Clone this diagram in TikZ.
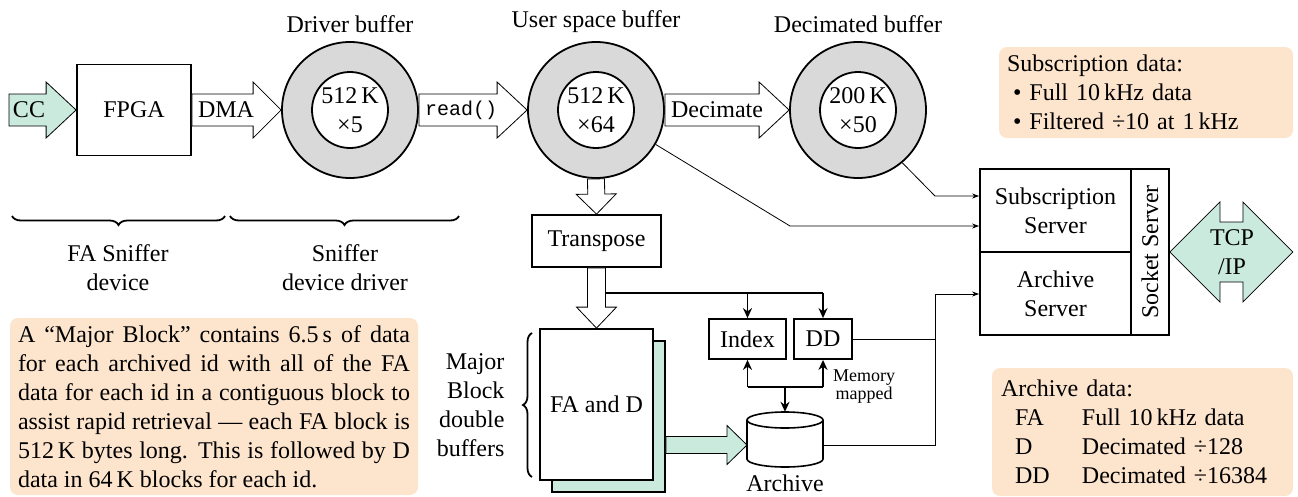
\documentclass[tikz,border=0pt]{standalone}
\usepackage{fontspec}
\setmainfont{Liberation Serif}
\setmonofont{Liberation Mono}
\usetikzlibrary{calc,arrows.meta,decorations.pathreplacing}
\definecolor{mint}{RGB}{202,234,222}
\definecolor{peach}{RGB}{253,228,205}
\definecolor{ringgray}{RGB}{217,217,217}
% block arrow: [style]{start}{tip}{body half width}{head half width}{head length}
\newcommand{\blockarr}[6][]{%
  \coordinate (bahead) at ($(#3)!#6!(#2)$);
  \draw[#1] ($(#2)!#4!90:(#3)$) -- ($(bahead)!#4!90:(#3)$) -- ($(bahead)!#5!90:(#3)$) -- (#3)
    -- ($(bahead)!#5!-90:(#3)$) -- ($(bahead)!#4!-90:(#3)$) -- ($(#2)!#4!-90:(#3)$) -- cycle;}
\begin{document}
\begin{tikzpicture}[x=1pt,y=-1pt,font=\fontsize{24}{29}\selectfont,
  box/.style={draw,line width=1.8pt,inner sep=0pt,align=center},
  ring/.style={circle,draw,line width=1.8pt,fill=ringgray,minimum size=136pt,inner sep=0pt},
  hole/.style={circle,draw,line width=1.8pt,fill=white,minimum size=76pt,inner sep=0pt,align=center},
  hollow/.style={draw,line width=0.8pt,fill=white},
  greenarr/.style={draw,line width=0.8pt,fill=mint},
  thinline/.style={line width=0.8pt},
  conn/.style={line width=0.8pt,-{Stealth[length=7pt,width=5pt]}},
  thickline/.style={line width=1.8pt},
  thickarrow/.style={line width=1.8pt,-{Stealth[length=10pt,width=9pt]}},
  note/.style={fill=peach,rounded corners=8pt},
  bracestyle/.style={decorate,decoration={brace,amplitude=9pt},line width=1.8pt}]
\path[use as bounding box] (0,0) rectangle (1298,496);

% ---- top row
\node[box,minimum width=114pt,minimum height=91pt] (fpga) at (134,110) {FPGA};
\node[ring] (drv) at (350,110) {};
\node[hole] (drvin) at (drv.center) {512\,K\\×5};
\node[ring] (usr) at (596,110) {};
\node[hole] (usrin) at (usr.center) {512\,K\\×64};
\node[ring] (dec) at (858,110) {};
\node[hole] (decin) at (dec.center) {200\,K\\×50};

\node[anchor=base] (drvlbl) at (350,32) {Driver buffer};
\node[anchor=base] (usrlbl) at (596,27) {User space buffer};
\node[anchor=base] (declbl) at (858,32) {Decimated buffer};

\coordinate (ccstart) at (9,110);
\blockarr[greenarr]{ccstart}{fpga.west}{16pt}{28pt}{30pt}
\node (cc) at (29,110) {CC};
\blockarr[hollow]{fpga.east}{drv.west}{16pt}{28pt}{28pt}
\node (dma) at (226,110) {DMA};
\blockarr[hollow]{drv.east}{usr.west}{16pt}{28pt}{30pt}
\node (readlbl) at (461,110) {\fontsize{20}{24}\ttfamily read()};
\blockarr[hollow]{usr.east}{dec.west}{16pt}{28pt}{30pt}
\node (decim) at (717,110) {Decimate};

% ---- braces
\draw[bracestyle] (225,216) -- (12,216);
\draw[bracestyle] (459,216) -- (230,216);
\node[align=center] (fasn) at (118,268) {FA Sniffer\\device};
\node[align=center] (sndd) at (345,268) {Sniffer\\device driver};

% ---- major block note
\node[note,text width=392pt,inner xsep=8pt,inner ysep=4pt,minimum height=177pt,align=justify] (mbtext) at (214,406.5)
 {A “Major Block” contains 6.5\,s of data\linebreak for each archived id with all of the FA\linebreak data for each id in a contiguous block to\linebreak assist rapid retrieval --- each FA block is\linebreak 512\,K bytes long. This is followed by D\linebreak data in 64\,K blocks for each id.};

% ---- transpose and FA
\node[box,minimum width=129pt,minimum height=52pt] (tr) at (596.5,241) {Transpose};
\blockarr[hollow]{usr.south}{tr.north}{8.5pt}{20pt}{20pt}
\node[box,fill=mint,minimum width=113pt,minimum height=151pt] (faback) at (608.5,416.5) {};
\node[box,fill=white,minimum width=113pt,minimum height=151pt] (fa) at (596.5,404.5) {FA and D};
\blockarr[hollow]{tr.south}{fa.north}{9pt}{20pt}{21pt}

\node[align=right,anchor=east] (mbdb) at (508,405) {Major\\Block\\double\\buffers};
\draw[bracestyle] (532,477) -- (532,333);

% ---- index, DD, archive
\node[box,minimum width=77pt,minimum height=40pt] (idx) at (747.5,339) {Index};
\node[box,minimum width=58pt,minimum height=40pt] (dd) at (823,339) {DD};
\coordinate (tl) at (605.5,293);
\draw[thickline] (tl) -- (dd.north |- tl);
\draw[thickarrow] (idx.north |- tl) -- (idx.north);
\draw[thickarrow] (dd.north |- tl) -- (dd.north);

\node[minimum width=76pt,minimum height=55pt,inner sep=0pt] (arch) at (785,439.5) {};
\draw[line width=1.6pt,fill=white] (747,420) -- (747,459) arc[start angle=180,end angle=360,x radius=38pt,y radius=8pt] -- (823,420);
\draw[line width=1.6pt,fill=white] (785,420) ellipse[x radius=38pt,y radius=8pt];
\node[anchor=base] (archlbl) at (785,491) {Archive};

\coordinate (mm) at (785,387);
\draw[thickline] (idx.south |- mm) -- (dd.south |- mm);
\draw[thickarrow] (idx.south |- mm) -- (idx.south);
\draw[thickarrow] (dd.south |- mm) -- (dd.south);
\draw[thickarrow] (mm) -- (arch.north);
\node[font=\fontsize{18}{18}\selectfont,align=center] (memlbl) at (864,387) {Memory\\mapped};

\coordinate (gtip) at (747,445);
\coordinate (gstart) at (faback.east |- gtip);
\blockarr[greenarr]{gstart}{gtip}{8.5pt}{19.5pt}{20pt}

% ---- servers
\node[box,minimum width=151pt,minimum height=83pt] (subs) at (1055.5,210.5) {Subscription\\Server};
\node[box,minimum width=151pt,minimum height=83pt] (asrv) at (1055.5,293.5) {Archive\\Server};
\node[box,minimum width=38pt,minimum height=166pt] (sock) at (1150,252) {};
\node[rotate=90] (socklbl) at (sock.center) {Socket Server};

\draw[line width=0.8pt,fill=mint] (sock.east) -- ++(50,-50) -- ++(0,20) -- ++(23,0) -- ++(0,-20) -- ++(50,50)
  -- ++(-50,50) -- ++(0,-20) -- ++(-23,0) -- ++(0,20) -- cycle;
\node[align=center] (tcp) at (1232,252) {TCP\\/IP};

\coordinate (k1) at (935,196);
\draw[conn] (dec.-50) -- (k1) -- (k1 -| subs.west);
\coordinate (k2) at (790,226);
\draw[conn] (usr.-30) -- (k2) -- (k2 -| subs.west);
\coordinate (k3) at (935,294);
\draw[thinline] (dd.east) -- (dd.east -| k3);
\draw[conn] ($(arch.east)+(0,5.5)$) -| (k3) -- (k3 -| asrv.west);

% ---- notes
\node[note,text width=278pt,inner xsep=8pt,minimum height=91pt,align=left] (subdata) at (1146,92.5)
 {Subscription data:\\\hspace*{6pt}\textbullet\hspace{8pt}Full 10\,kHz data\\\hspace*{6pt}\textbullet\hspace{8pt}Filtered ÷10 at 1\,kHz};
\node[note,text width=283pt,inner xsep=9pt,minimum height=128pt,align=left] (archdata) at (1142.5,432)
 {Archive data:\\\hspace*{14pt}\makebox[67pt][l]{FA}Full 10\,kHz data\\\hspace*{14pt}\makebox[67pt][l]{D}Decimated ÷128\\\hspace*{14pt}\makebox[67pt][l]{DD}Decimated ÷16384};
\end{tikzpicture}
\end{document}
